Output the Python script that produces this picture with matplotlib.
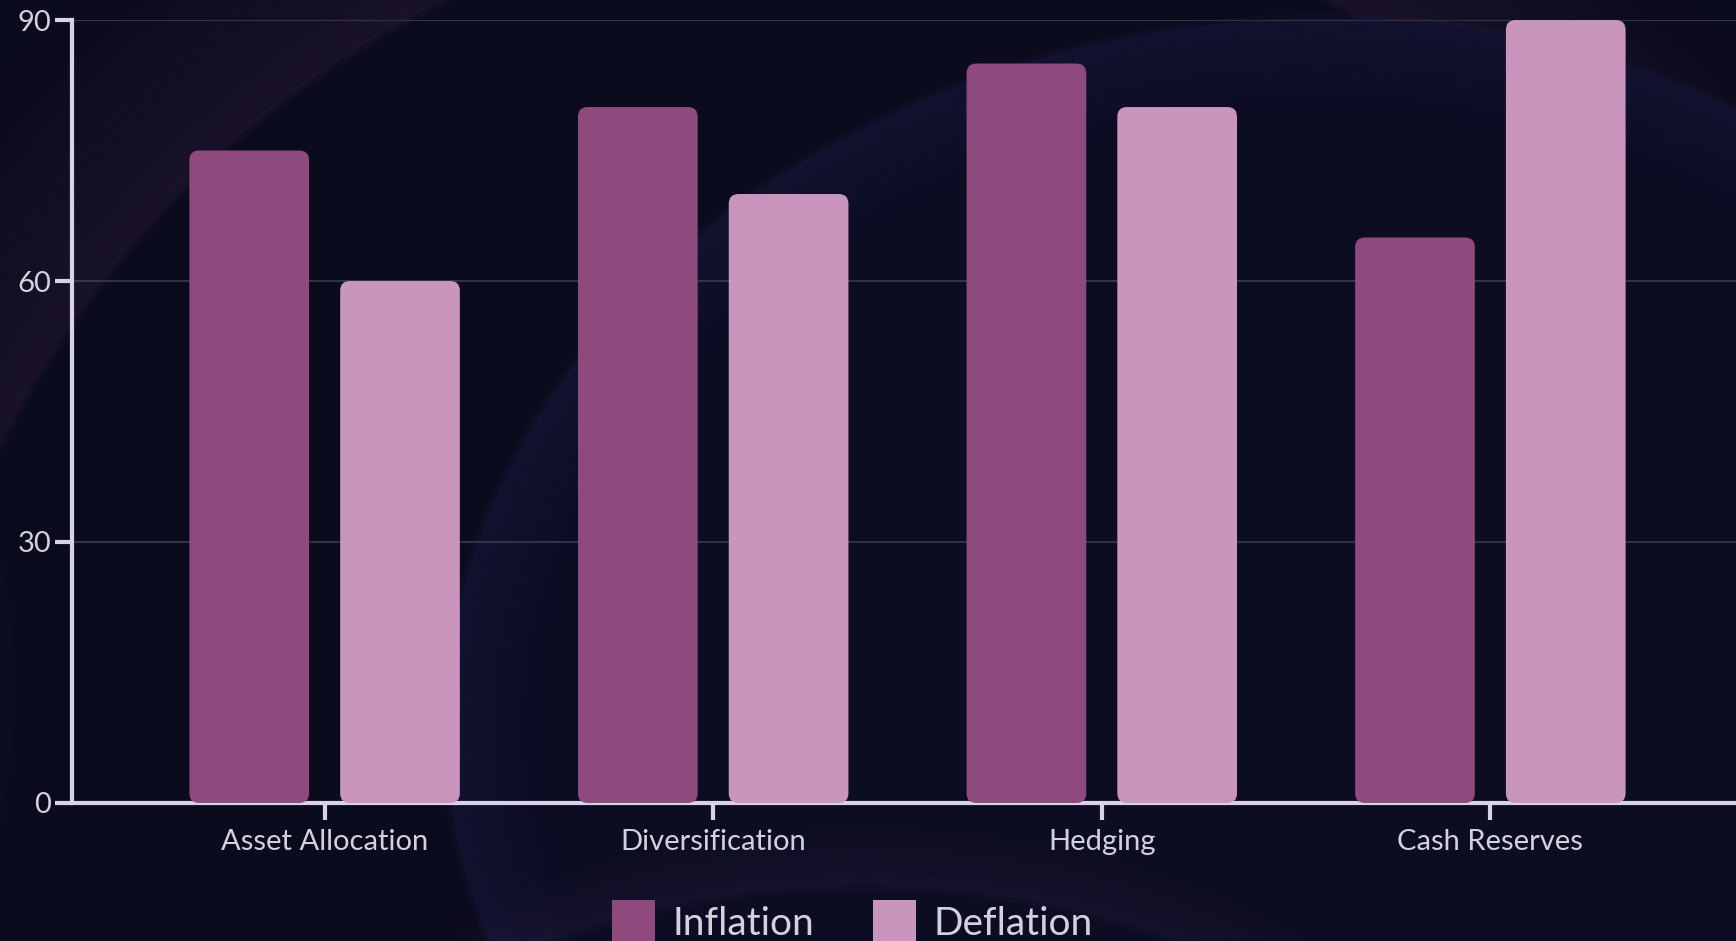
import numpy as np
import matplotlib
matplotlib.use("Agg")
import matplotlib.pyplot as plt
from matplotlib.patches import FancyBboxPatch, Circle, Ellipse

plt.rcParams['font.family'] = ['Lato', 'DejaVu Sans']

# data
categories = ["Asset Allocation", "Diversification", "Hedging", "Cash Reserves"]
inflation = [75, 80, 85, 65]
deflation = [60, 70, 80, 90]
series_names = ["Inflation", "Deflation"]
colors = ["#8E4A7C", "#C995BD"]
yticks = [0, 30, 60, 90]

bg = "#0A0B1C"
axis_col = "#D8D2E6"
text_col = "#D4D0DC"

fig = plt.figure(figsize=(17.36, 9.41), dpi=100, facecolor=bg)

# decorative background, in reference pixel coordinates (1568 x 850)
bgax = fig.add_axes([0, 0, 1, 1], zorder=0)
bgax.set_xlim(0, 1568)
bgax.set_ylim(850, 0)
bgax.axis("off")
bgax.set_facecolor(bg)

# purple glow in top-left corner (outside a big circle)
for i in range(60):
    r = 894 + i * 4
    a = 0.09 * (1 - i / 60) ** 1.5
    bgax.add_patch(Circle((800, 800), r, fill=False, lw=6, ec="#6B3A78", alpha=a))

# bluish blob on the right with a soft edge
bgax.add_patch(Ellipse((1150, 620), 1500, 1200, angle=-8, fc="#0C0D22", ec="none"))
for i in range(30):
    a = 0.10 * (1 - i / 30) ** 1.5
    bgax.add_patch(Ellipse((1150, 620), 1500 - i * 8, 1200 - i * 8, angle=-8,
                           fill=False, lw=7, ec="#2C2C62", alpha=a))

# lower-left bluish band
for i in range(25):
    a = 0.10 * (1 - i / 25) ** 1.5
    bgax.add_patch(Ellipse((-380, 760), 900 + i * 8, 600 + i * 8, angle=-60,
                           fill=False, lw=7, ec="#2A2A60", alpha=a))

# bottom glow
for i in range(20):
    a = 0.08 * (1 - i / 20) ** 1.5
    bgax.add_patch(Ellipse((780, 1150), 1100 + i * 8, 700 + i * 8,
                           fill=False, lw=7, ec="#4A2E5E", alpha=a))

ax = fig.add_axes([0.0415, 0.1467, 0.9625, 0.832], zorder=1)
ax.set_facecolor("none")

x = np.arange(len(categories))
width = 0.308
offset = 0.194

bars1 = ax.bar(x - offset, inflation, width, color=colors[0], label=series_names[0], zorder=3)
bars2 = ax.bar(x + offset, deflation, width, color=colors[1], label=series_names[1], zorder=3)

ax.set_xlim(-0.65, 3.65)
ax.set_ylim(0, 90)

# rounded bar tops
aspect = 44.7
for bars in (bars1, bars2):
    for b in bars:
        b.set_visible(False)
        p = FancyBboxPatch((b.get_x(), b.get_y()), b.get_width(), b.get_height(),
                           boxstyle="round,pad=0,rounding_size=0.025",
                           mutation_aspect=aspect, fc=b.get_facecolor(), ec="none", zorder=3)
        ax.add_patch(p)

ax.set_yticks(yticks)
ax.set_xticks(x)
ax.set_xticklabels(categories)
ax.yaxis.grid(True, color="#3A3A4E", lw=1.2, zorder=0)
ax.set_axisbelow(True)

for s in ["top", "right"]:
    ax.spines[s].set_visible(False)
for s in ["left", "bottom"]:
    ax.spines[s].set_color(axis_col)
    ax.spines[s].set_linewidth(3)

ax.tick_params(axis="both", colors=axis_col, width=3, length=12, labelsize=21,
               labelcolor=text_col)
ax.tick_params(axis="y", pad=3)
ax.tick_params(axis="x", pad=7)

leg = fig.legend(handles=[bars1, bars2], labels=series_names, loc="center",
                 bbox_to_anchor=(0.491, 0.02), ncol=2, frameon=False, fontsize=28,
                 handlelength=1.1, handleheight=1.35, columnspacing=1.5, handletextpad=0.45)
for t in leg.get_texts():
    t.set_color(text_col)
for h in leg.legend_handles:
    h.set_visible(True)

fig.savefig("out.png", dpi=100, facecolor=bg)
